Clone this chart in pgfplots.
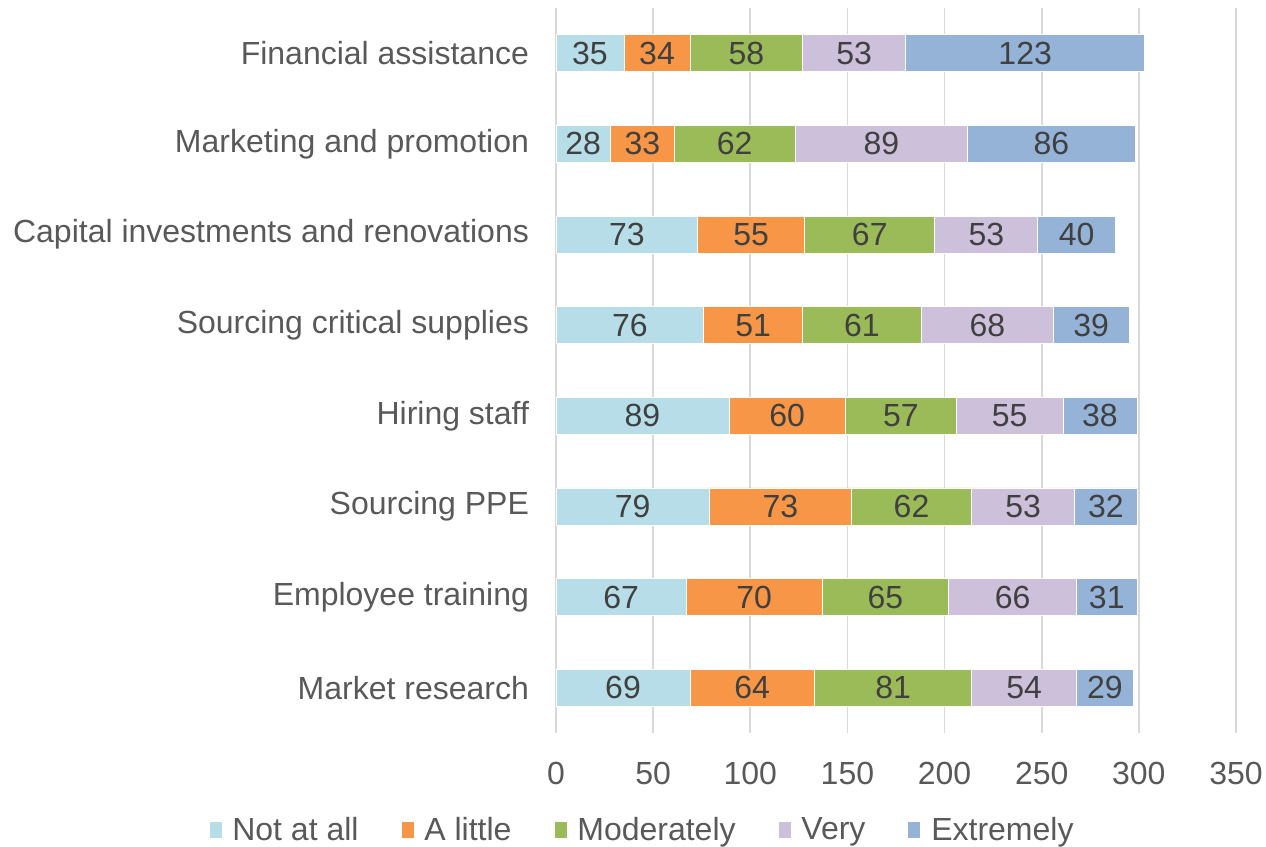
\documentclass[border=0pt]{standalone}
\usepackage{fontspec}
\setmainfont{Liberation Sans}
\usepackage{pgfplots}
\pgfplotsset{compat=1.18}
\definecolor{cNot}{HTML}{B7DEE8}
\definecolor{cLittle}{HTML}{F79646}
\definecolor{cMod}{HTML}{9BBB59}
\definecolor{cVery}{HTML}{CCC0DA}
\definecolor{cExt}{HTML}{95B3D7}
\definecolor{txt}{HTML}{595959}
\definecolor{lbl}{HTML}{404040}
\definecolor{grd}{HTML}{D9D9D9}
\newcommand{\bigf}{\fontsize{16pt}{19pt}\selectfont}
\begin{document}
\begin{tikzpicture}
\useasboundingbox (-278pt,-57pt) rectangle (355pt,366.5pt);
\begin{axis}[
  scale only axis,
  width=340pt, height=362.5pt,
  xbar stacked,
  bar width=18.5pt,
  xmin=0, xmax=350,
  ymin=-0.5, ymax=7.5,
  xtick={0,50,...,350},
  ytick={0,...,7},
  yticklabels={Market research,Employee training,Sourcing PPE,Hiring staff,Sourcing critical supplies,Capital investments and renovations,Marketing and promotion,Financial assistance},
  axis line style={draw=none},
  major tick length=0pt,
  xmajorgrids,
  grid style={grd, line width=0.8pt},
  /pgf/number format/assume math mode=true,
  xticklabel style={font=\bigf, text=txt, yshift=-11pt},
  yticklabel style={font=\bigf, text=txt, xshift=-10pt},
  legend columns=5,
  legend style={draw=none, fill=none, font=\bigf, text=txt,
    at={(0.128,-0.134)}, anchor=center,
    /tikz/every even column/.append style={column sep=19pt}},
  legend image code/.code={\fill[#1] (0pt,-4.2pt) rectangle (6.5pt,4.2pt); \path (9.5pt,0pt);},
  visualization depends on=rawx \as \rawx,
  nodes near coords={\pgfmathprintnumber{\rawx}},
  every node near coord/.append style={font=\bigf, text=lbl, anchor=center},
]
\addplot[fill=cNot, draw=white, line width=0.4pt] coordinates {(69,0) (67,1) (79,2) (89,3) (76,4) (73,5) (28,6) (35,7)};
\addlegendentry{Not at all}
\addplot[fill=cLittle, draw=white, line width=0.4pt] coordinates {(64,0) (70,1) (73,2) (60,3) (51,4) (55,5) (33,6) (34,7)};
\addlegendentry{A little}
\addplot[fill=cMod, draw=white, line width=0.4pt] coordinates {(81,0) (65,1) (62,2) (57,3) (61,4) (67,5) (62,6) (58,7)};
\addlegendentry{Moderately}
\addplot[fill=cVery, draw=white, line width=0.4pt] coordinates {(54,0) (66,1) (53,2) (55,3) (68,4) (53,5) (89,6) (53,7)};
\addlegendentry{Very}
\addplot[fill=cExt, draw=white, line width=0.4pt] coordinates {(29,0) (31,1) (32,2) (38,3) (39,4) (40,5) (86,6) (123,7)};
\addlegendentry{Extremely}
\end{axis}
\end{tikzpicture}
\end{document}
